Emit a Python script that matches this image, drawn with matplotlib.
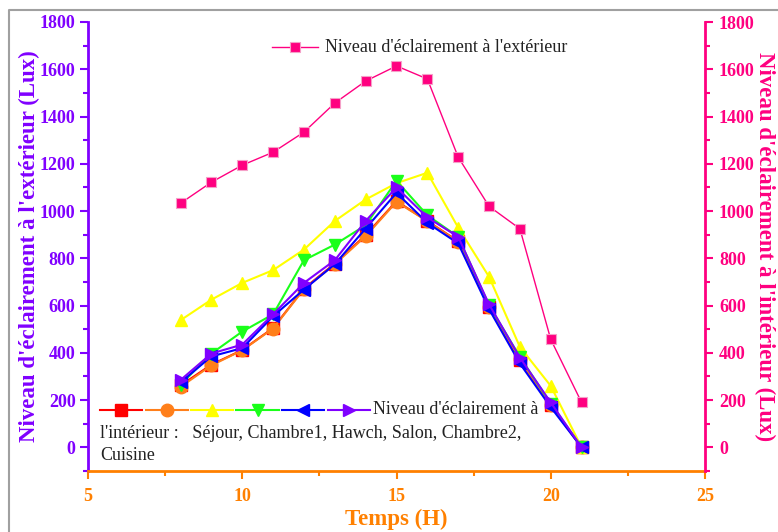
import matplotlib
matplotlib.use("Agg")
import matplotlib.pyplot as plt
from matplotlib.lines import Line2D
from matplotlib.ticker import MultipleLocator

plt.rcParams['font.family'] = ['Liberation Serif', 'DejaVu Serif']

# Hours of measurement
hours = [8, 9, 10, 11, 12, 13, 14, 15, 16, 17, 18, 19, 20, 21]

# Outdoor illuminance (Lux)
exterieur = [1033, 1122, 1194, 1249, 1334, 1457, 1550, 1614, 1559, 1228, 1020, 925, 457, 190]

# Indoor illuminance per room (Lux)
sejour   = [262, 350, 412, 505, 672, 778, 898, 1042, 958, 872, 595, 370, 178, 0]
chambre1 = [256, 347, 411, 503, 670, 775, 894, 1039, 957, 870, 595, 372, 180, 0]
hawch    = [538, 625, 696, 750, 837, 958, 1049, 1118, 1162, 930, 722, 425, 260, 0]
salon    = [265, 397, 490, 563, 792, 858, 940, 1128, 982, 891, 601, 383, 185, 0]
chambre2 = [275, 385, 420, 555, 668, 775, 926, 1077, 950, 863, 585, 355, 170, 0]
cuisine  = [285, 397, 435, 563, 696, 792, 958, 1100, 973, 891, 605, 380, 190, 0]

rooms = [
    (sejour,   '#FF0000', 's'),
    (chambre1, '#FF7F1A', 'o'),
    (hawch,    '#FFFF00', '^'),
    (salon,    '#1AFF1A', 'v'),
    (chambre2, '#0000FF', '<'),
    (cuisine,  '#8000FF', '>'),
]

PURPLE = '#8000FF'
PINK = '#FF0080'
ORANGE = '#FF8000'
TEXT = '#222222'

W, H = 778, 532
fig = plt.figure(figsize=(W / 100, H / 100), dpi=100)
ax = fig.add_axes([88 / W, 1 - 471 / H, (705 - 88) / W, (471 - 22) / H])
ax2 = ax.twinx()

for vals, col, mk in rooms:
    ax.plot(hours, vals, color=col, marker=mk, markersize=9, lw=1.5,
            markeredgecolor=col, clip_on=False)

ax2.plot(hours, exterieur, color=PINK, marker='s', markersize=7, lw=1.0,
         markeredgecolor='#F5A0C8', markeredgewidth=0.8, clip_on=False)

ymin, ymax = -100, 1800
for a in (ax, ax2):
    a.set_xlim(5, 25)
    a.set_ylim(ymin, ymax)
    a.yaxis.set_major_locator(MultipleLocator(200))
    a.yaxis.set_minor_locator(MultipleLocator(100))
    a.spines['top'].set_visible(False)

ax.xaxis.set_major_locator(MultipleLocator(5))
ax.xaxis.set_minor_locator(MultipleLocator(2.5))

ax.spines['left'].set_color(PURPLE)
ax.spines['left'].set_linewidth(2)
ax.spines['bottom'].set_color(ORANGE)
ax.spines['bottom'].set_linewidth(2)
ax.spines['right'].set_visible(False)
ax2.spines['left'].set_visible(False)
ax2.spines['bottom'].set_visible(False)
ax2.spines['right'].set_color(PINK)
ax2.spines['right'].set_linewidth(2)

ax.tick_params(axis='y', which='major', colors=PURPLE, length=6, width=1.5, direction='out', pad=3)
ax.tick_params(axis='y', which='minor', colors=PURPLE, length=3.5, width=1.5, direction='out')
ax.tick_params(axis='x', which='major', colors=ORANGE, length=6, width=1.5, direction='out', pad=6)
ax.tick_params(axis='x', which='minor', colors=ORANGE, length=3.5, width=1.5, direction='out')
ax2.tick_params(axis='y', which='major', colors=PINK, length=6, width=1.5, direction='out', pad=4)
ax2.tick_params(axis='y', which='minor', colors=PINK, length=3.5, width=1.5, direction='out')

for lbl in ax.get_yticklabels() + ax.get_xticklabels() + ax2.get_yticklabels():
    lbl.set_fontsize(13)
    lbl.set_fontweight('bold')

ax.set_ylabel("Niveau d'éclairement à l'extérieur (Lux)", color=PURPLE,
              fontsize=16.5, fontweight='bold', labelpad=0)
ax2.set_ylabel("Niveau d'éclairement à l'intérieur (Lux)", color=PINK,
               fontsize=16.5, fontweight='bold', rotation=270, labelpad=15)
ax.set_xlabel("Temps (H)", color=ORANGE, fontsize=16.5, fontweight='bold', labelpad=3)


def fx(px):
    return px / W


def fy(py):
    return 1 - py / H


# Outdoor legend entry
fig.add_artist(Line2D([fx(272), fx(318)], [fy(47), fy(47)], color=PINK, lw=1.0,
                      transform=fig.transFigure))
fig.add_artist(Line2D([fx(295)], [fy(47)], color=PINK, marker='s', markersize=7, lw=0,
                      markeredgecolor='#F5A0C8', markeredgewidth=0.8,
                      transform=fig.transFigure))
fig.text(fx(325), fy(47), "Niveau d'éclairement à l'extérieur", color=TEXT,
         fontsize=13, va='center', ha='left')

# Indoor legend: six handles in a row, followed by the description
x0 = 100
step = 45.5
for i, (vals, col, mk) in enumerate(rooms):
    xs = x0 + i * step
    fig.add_artist(Line2D([fx(xs), fx(xs + 42)], [fy(410), fy(410)], color=col, lw=1.5,
                          transform=fig.transFigure))
    fig.add_artist(Line2D([fx(xs + 21)], [fy(410)], color=col, marker=mk, markersize=9,
                          lw=0, transform=fig.transFigure))
fig.text(fx(373), fy(410), "Niveau d'éclairement à", color=TEXT, fontsize=13,
         va='center', ha='left')
fig.text(fx(100), fy(433), "l'intérieur :   Séjour, Chambre1, Hawch, Salon, Chambre2,",
         color=TEXT, fontsize=13, va='center', ha='left')
fig.text(fx(100), fy(456), "Cuisine", color=TEXT, fontsize=13, va='center', ha='left')

# Page frame
fig.add_artist(Line2D([fx(9), fx(9), fx(W + 2)], [fy(H + 2), fy(9.5), fy(9.5)],
                      color='#A0A0A0', lw=1.5, transform=fig.transFigure))

fig.savefig('out.png', dpi=100)
